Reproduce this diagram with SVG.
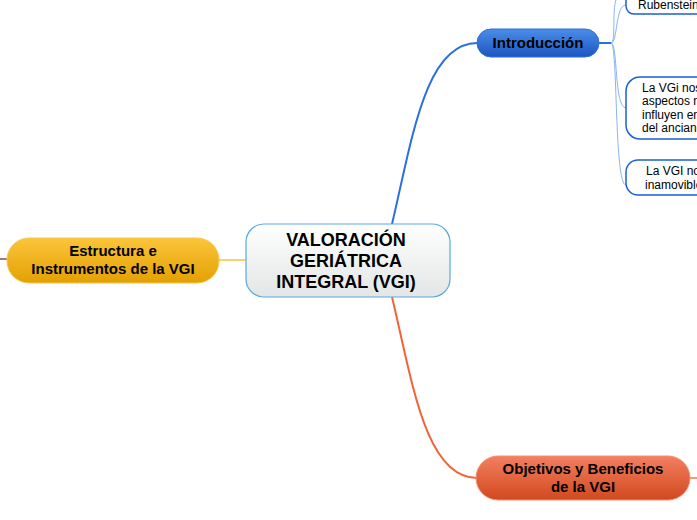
<svg xmlns="http://www.w3.org/2000/svg" width="697" height="520" viewBox="0 0 697 520">
<defs>
<linearGradient id="gCenter" x1="0" y1="0" x2="0" y2="1"><stop offset="0" stop-color="#ffffff"/><stop offset="1" stop-color="#e3e6e6"/></linearGradient>
<linearGradient id="gBlue" x1="0" y1="0" x2="0" y2="1"><stop offset="0" stop-color="#4a8ee8"/><stop offset="1" stop-color="#1c55c0"/></linearGradient>
<linearGradient id="gYellow" x1="0" y1="0" x2="0" y2="1"><stop offset="0" stop-color="#fcc53a"/><stop offset="1" stop-color="#e2a004"/></linearGradient>
<linearGradient id="gOrange" x1="0" y1="0" x2="0" y2="1"><stop offset="0" stop-color="#f28060"/><stop offset="1" stop-color="#d2481e"/></linearGradient>
</defs>
<style>
text{font-family:"Liberation Sans",Arial,sans-serif;fill:#000}
.main{font-size:18px;font-weight:bold;text-anchor:middle}
.topic{font-size:15px;font-weight:bold;text-anchor:middle}
.sub{font-size:12px}
.leaf{fill:#fff;stroke:#1a5fd8;stroke-width:1.5}
.thin{fill:none;stroke:#8ab4f0;stroke-width:1}
</style>
<rect width="697" height="520" fill="#fff"/>
<g id="connectors">
<path d="M392,224 C412,140 425,43 477,43" fill="none" stroke="#2a6fe0" stroke-width="2"/>
<path d="M392,297 C412,380 425,478 477,478" fill="none" stroke="#f0643a" stroke-width="2"/>
<path d="M219,260 L246,260" stroke="#f8c040" stroke-width="1.5"/>
<path d="M0,259 L7,259" stroke="#8b4a4a" stroke-width="1.5"/>
<path d="M690,478 L697,478" stroke="#f07850" stroke-width="1.5"/>
<path d="M599,43 L611,43" stroke="#2a6fe0" stroke-width="2"/>
<path class="thin" d="M611,43 C616,43 612,10 616,0"/>
<path class="thin" d="M611,43 C618,43 615,5 626,5"/>
<path class="thin" d="M611,43 C618,43 614,108 626,108"/>
<path class="thin" d="M611,43 C618,43 614,185 626,185"/>
</g>
<g id="central">
<rect x="246" y="224" width="204" height="73" rx="18" fill="url(#gCenter)" stroke="#5aa8e0" stroke-width="1.2"/>
<text class="main" x="346" y="246">VALORACIÓN</text>
<text class="main" x="346" y="267">GERIÁTRICA</text>
<text class="main" x="346" y="288">INTEGRAL (VGI)</text>
</g>
<g id="introduccion">
<rect x="477" y="29" width="122" height="28" rx="14" fill="url(#gBlue)" stroke="#2a6fe0" stroke-width="1"/>
<text class="topic" x="538" y="48">Introducción</text>
</g>
<g id="estructura">
<rect x="7" y="238" width="212" height="45" rx="22" fill="url(#gYellow)" stroke="#f8c84a" stroke-width="1"/>
<text class="topic" x="113" y="256">Estructura e</text>
<text class="topic" x="113" y="274">Instrumentos de la VGI</text>
</g>
<g id="objetivos">
<rect x="476" y="456" width="214" height="44" rx="22" fill="url(#gOrange)" stroke="#f29070" stroke-width="1"/>
<text class="topic" x="583" y="474">Objetivos y Beneficios</text>
<text class="topic" x="583" y="492">de la VGI</text>
</g>
<g id="rubenstein">
<rect x="626" y="-20" width="100" height="34" rx="8" class="leaf"/>
<text class="sub" x="638" y="9">Rubenstein</text>
</g>
<g id="vgi-aspectos">
<rect x="626" y="77" width="100" height="62" rx="14" class="leaf"/>
<text class="sub" x="642" y="92">La VGi nos</text>
<text class="sub" x="642" y="105">aspectos n</text>
<text class="sub" x="642" y="119">influyen en</text>
<text class="sub" x="642" y="132">del anciano</text>
</g>
<g id="vgi-inamovible">
<rect x="626" y="160" width="100" height="35" rx="12" class="leaf"/>
<text class="sub" x="646" y="175">La VGI no</text>
<text class="sub" x="645" y="189">inamovible</text>
</g>
</svg>
